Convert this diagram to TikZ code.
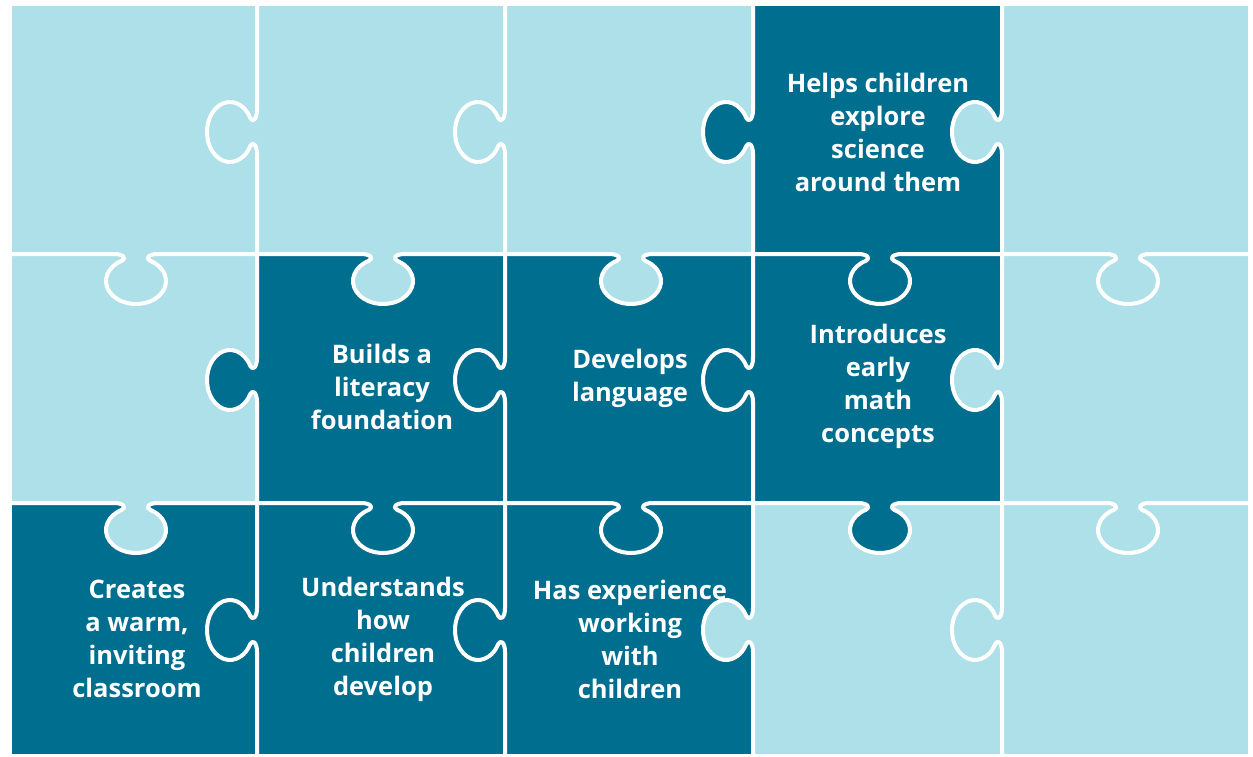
\documentclass[tikz,border=0pt]{standalone}
\usepackage{fontspec}
\setmainfont{Open Sans}
\definecolor{lightp}{RGB}{173,224,232}
\definecolor{darkp}{RGB}{0,110,143}
\begin{document}
\begin{tikzpicture}[x=1pt,y=-1pt,
  hk/.style 2 args={insert path={-- ({#1-22},#2) .. controls ({#1-12},#2) and ({#1-9.4},{#2+4.7}) .. ({#1-14},{#2+6.7}) arc[start angle=242.2,end angle=-62.2,x radius=30,y radius=23] .. controls ({#1+9.4},{#2+4.7}) and ({#1+12},#2) .. ({#1+22},#2)}},
  vk/.style 2 args={insert path={-- (#1,{#2-22}) .. controls (#1,{#2-12}) and ({#1-4.7},{#2-9.4}) .. ({#1-6.7},{#2-14}) arc[start angle=-27.8,end angle=-332.2,x radius=23,y radius=30] .. controls ({#1-4.7},{#2+9.4}) and (#1,{#2+12}) .. (#1,{#2+22})}},
  seam/.style={white,line width=4pt,line join=round},
  lbl/.style={text=white,align=center,font=\bfseries\fontsize{25.5}{33}\selectfont}]
\useasboundingbox (0,0) rectangle (1253,757);
\fill[white] (0,0) rectangle (1253,757);
% cells
\foreach \xa/\xb/\ya/\yb/\c in {
  12/257/6/254/lightp, 257/505/6/254/lightp, 505/753/6/254/lightp, 753/1002/6/254/darkp, 1002/1248/6/254/lightp,
  12/257/254/503/lightp, 257/505/254/503/darkp, 505/753/254/503/darkp, 753/1002/254/503/darkp, 1002/1248/254/503/lightp,
  12/257/503/754/darkp, 257/505/503/754/darkp, 505/753/503/754/darkp, 753/1002/503/754/lightp, 1002/1248/503/754/lightp}
  \fill[\c] (\xa,\ya) rectangle (\xb,\yb);
% horizontal knobs (pointing down)
\foreach \x/\y/\c in {136/254/lightp, 383/254/lightp, 631/254/lightp, 880/254/darkp, 1128/254/lightp,
  136/503/lightp, 383/503/darkp, 631/503/darkp, 880/503/darkp, 1128/503/lightp}
  \fill[\c] ({\x-22},\y) [hk={\x}{\y}] -- cycle;
% vertical knobs (pointing left)
\foreach \x/\y/\c in {257/132/lightp, 505/132/lightp, 753/132/darkp, 1002/132/lightp,
  257/380/darkp, 505/380/darkp, 753/380/darkp, 1002/380/lightp,
  257/630/darkp, 505/630/darkp, 753/630/lightp, 1002/630/lightp}
  \fill[\c] (\x,{\y-22}) [vk={\x}{\y}] -- cycle;
% seams
\foreach \y in {254,503}
  \foreach \xa/\xb/\x in {12/257/136, 257/505/383, 505/753/631, 753/1002/880, 1002/1248/1128}
    \draw[seam] (\xa,\y) [hk={\x}{\y}] -- (\xb,\y);
\foreach \x in {257,505,753,1002}
  \foreach \ya/\yb/\y in {6/254/132, 254/503/380, 503/754/630}
    \draw[seam] (\x,\ya) [vk={\x}{\y}] -- (\x,\yb);
% labels
\node[lbl] (science) at (878,132) {Helps children\\explore\\science\\around them};
\node[lbl] (literacy) at (382,387) {Builds a\\literacy\\foundation};
\node[lbl] (language) at (630,378) {Develops\\language};
\node[lbl] (math) at (878,386) {Introduces\\early\\math\\concepts};
\node[lbl] (classroom) at (137,639) {Creates\\a warm,\\inviting\\classroom};
\node[lbl] (develop) at (383,639) {Understands\\how\\children\\develop};
\node[lbl] (experience) at (630,639) {Has experience\\working\\with\\children};
\end{tikzpicture}
\end{document}
